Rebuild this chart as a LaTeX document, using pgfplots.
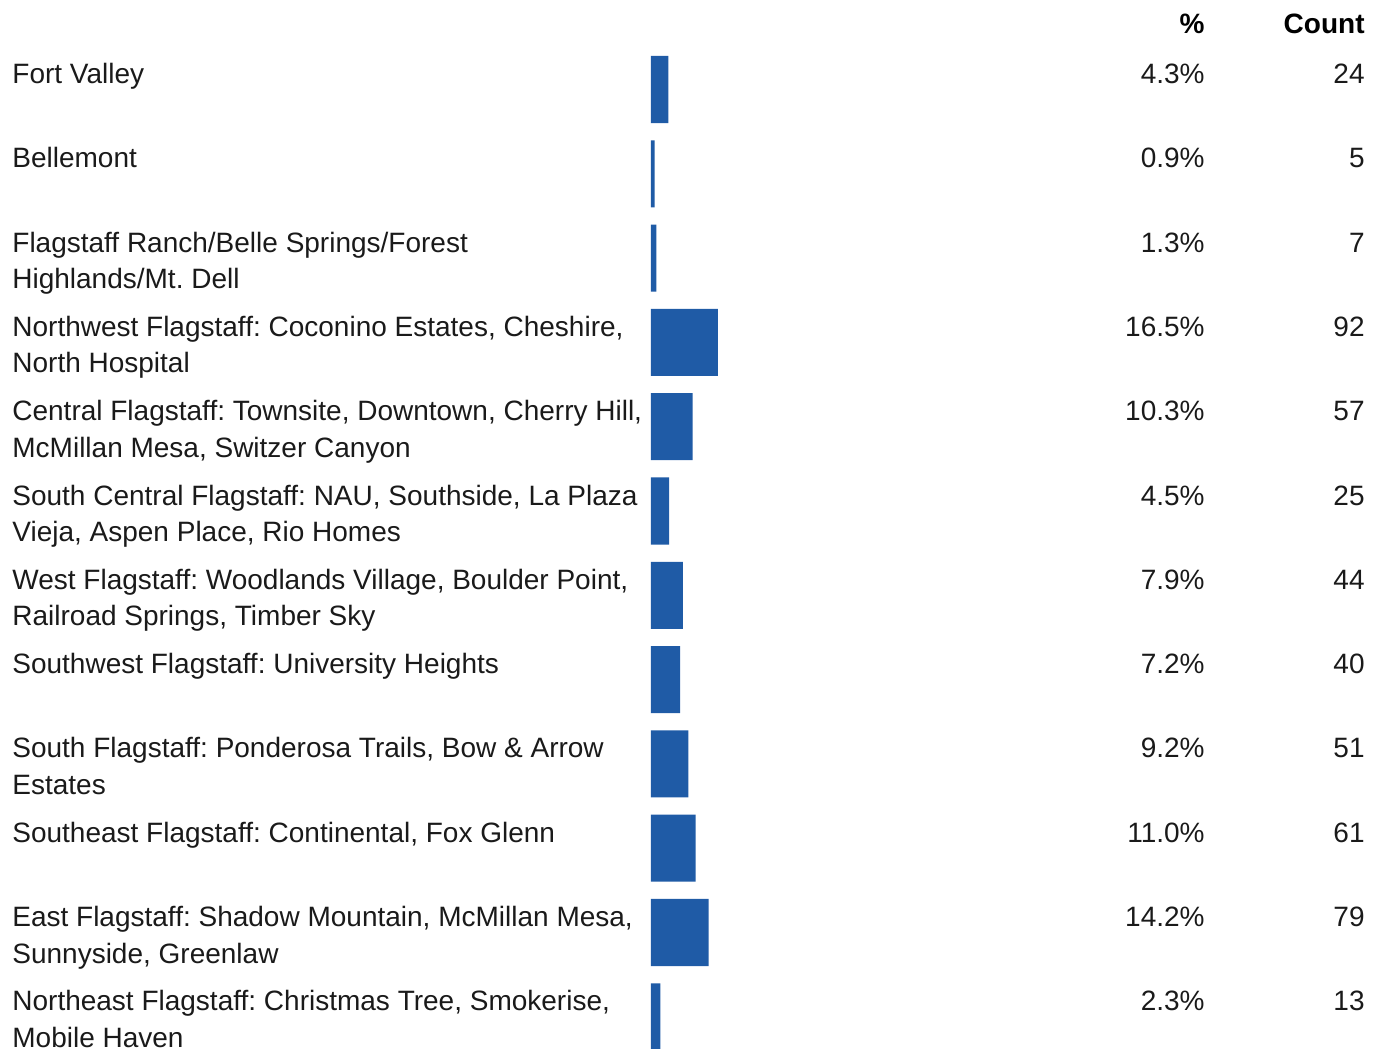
\documentclass[border=0pt]{standalone}
\usepackage{pgfplots}
\pgfplotsset{compat=1.18}
\usepackage{fontspec}
\setmainfont{Liberation Sans}
\definecolor{barblue}{HTML}{1F5BA6}
\definecolor{txt}{HTML}{1A1A1A}
\begin{document}
\frenchspacing
\begin{tikzpicture}
\path[use as bounding box] (0,0) rectangle (688.5pt,524.5pt);
\begin{axis}[
  at={(325.5pt,0pt)}, anchor=south west,
  scale only axis, width=202.5pt, height=524.5pt,
  xmin=0, xmax=100, ymin=-1.0617, ymax=11.382,
  y dir=reverse, hide axis, clip=false,
  xbar, bar width=0.795, bar shift=0pt,
]
\addplot[draw=none, fill=barblue] coordinates {
 (4.3,0) (0.9,1) (1.3,2) (16.5,3) (10.3,4) (4.5,5) (7.9,6) (7.2,7) (9.2,8) (11.0,9) (14.2,10) (2.3,11)};
\tikzset{lab/.style={anchor=base west, inner sep=0pt, text=txt, font=\fontsize{14}{18}\selectfont\frenchspacing, xshift=-319.5pt},
  l1/.style={lab, yshift=3pt}, l2/.style={lab, yshift=-15.25pt},
  pc/.style={anchor=base east, inner sep=0pt, text=txt, font=\fontsize{14}{18}\selectfont, xshift=277pt, yshift=3pt},
  ct/.style={anchor=base east, inner sep=0pt, text=txt, font=\fontsize{14}{18}\selectfont, xshift=357pt, yshift=3pt},
  hd/.style={anchor=base east, inner sep=0pt, text=black, font=\fontsize{14}{18}\selectfont\bfseries, yshift=28.25pt}}
\node[hd, xshift=277pt] at (axis cs:0,0) {\%};
\node[hd, xshift=357pt] at (axis cs:0,0) {Count};
\node[l1] at (axis cs:0,0) {Fort Valley};
\node[l1] at (axis cs:0,1) {Bellemont};
\node[l1] at (axis cs:0,2) {Flagstaff Ranch/Belle Springs/Forest};
\node[l2] at (axis cs:0,2) {Highlands/Mt. Dell};
\node[l1] at (axis cs:0,3) {Northwest Flagstaff: Coconino Estates, Cheshire,};
\node[l2] at (axis cs:0,3) {North Hospital};
\node[l1] at (axis cs:0,4) {Central Flagstaff: Townsite, Downtown, Cherry Hill,};
\node[l2] at (axis cs:0,4) {McMillan Mesa, Switzer Canyon};
\node[l1] at (axis cs:0,5) {South Central Flagstaff: NAU, Southside, La Plaza};
\node[l2] at (axis cs:0,5) {Vieja, Aspen Place, Rio Homes};
\node[l1] at (axis cs:0,6) {West Flagstaff: Woodlands Village, Boulder Point,};
\node[l2] at (axis cs:0,6) {Railroad Springs, Timber Sky};
\node[l1] at (axis cs:0,7) {Southwest Flagstaff: University Heights};
\node[l1] at (axis cs:0,8) {South Flagstaff: Ponderosa Trails, Bow \& Arrow};
\node[l2] at (axis cs:0,8) {Estates};
\node[l1] at (axis cs:0,9) {Southeast Flagstaff: Continental, Fox Glenn};
\node[l1] at (axis cs:0,10) {East Flagstaff: Shadow Mountain, McMillan Mesa,};
\node[l2] at (axis cs:0,10) {Sunnyside, Greenlaw};
\node[l1] at (axis cs:0,11) {Northeast Flagstaff: Christmas Tree, Smokerise,};
\node[l2] at (axis cs:0,11) {Mobile Haven};
\node[pc] at (axis cs:0,0) {4.3\%};  \node[ct] at (axis cs:0,0) {24};
\node[pc] at (axis cs:0,1) {0.9\%};  \node[ct] at (axis cs:0,1) {5};
\node[pc] at (axis cs:0,2) {1.3\%};  \node[ct] at (axis cs:0,2) {7};
\node[pc] at (axis cs:0,3) {16.5\%}; \node[ct] at (axis cs:0,3) {92};
\node[pc] at (axis cs:0,4) {10.3\%}; \node[ct] at (axis cs:0,4) {57};
\node[pc] at (axis cs:0,5) {4.5\%};  \node[ct] at (axis cs:0,5) {25};
\node[pc] at (axis cs:0,6) {7.9\%};  \node[ct] at (axis cs:0,6) {44};
\node[pc] at (axis cs:0,7) {7.2\%};  \node[ct] at (axis cs:0,7) {40};
\node[pc] at (axis cs:0,8) {9.2\%};  \node[ct] at (axis cs:0,8) {51};
\node[pc] at (axis cs:0,9) {11.0\%}; \node[ct] at (axis cs:0,9) {61};
\node[pc] at (axis cs:0,10) {14.2\%}; \node[ct] at (axis cs:0,10) {79};
\node[pc] at (axis cs:0,11) {2.3\%};  \node[ct] at (axis cs:0,11) {13};
\end{axis}
\end{tikzpicture}
\end{document}
